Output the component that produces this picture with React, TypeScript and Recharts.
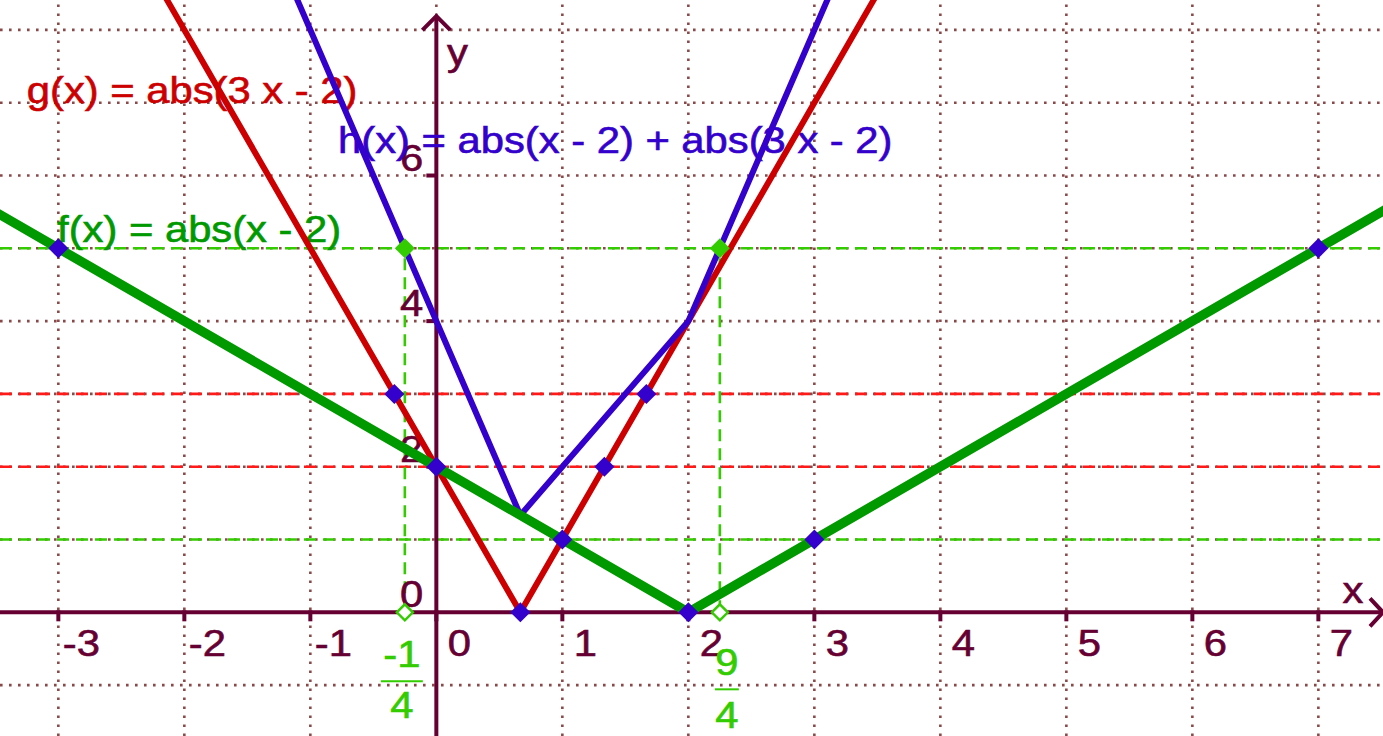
import React from 'react';
import { ComposedChart, Line, Scatter, XAxis, YAxis, ReferenceLine, ReferenceDot } from 'recharts';

// ---------- data ----------
const fPoints = [
  { x: -3.6, y: 5.6 },
  { x: 2, y: 0 },
  { x: 7.6, y: 5.6 },
];
const gPoints = [
  { x: -2.2, y: 8.6 },
  { x: 2 / 3, y: 0 },
  { x: 3.6, y: 8.8 },
];
const hPoints = [
  { x: -1.2, y: 8.8 },
  { x: 2 / 3, y: 4 / 3 },
  { x: 2, y: 4 },
  { x: 3.2, y: 8.8 },
];
const bluePoints = [
  { x: -3, y: 5 },
  { x: 7, y: 5 },
  { x: 0, y: 2 },
  { x: 1, y: 1 },
  { x: 3, y: 1 },
  { x: 2, y: 0 },
  { x: 2 / 3, y: 0 },
  { x: -1 / 3, y: 3 },
  { x: 5 / 3, y: 3 },
  { x: 4 / 3, y: 2 },
];
const greenFilledPoints = [
  { x: -0.25, y: 5 },
  { x: 2.25, y: 5 },
];
const greenHollowPoints = [
  { x: -0.25, y: 0 },
  { x: 2.25, y: 0 },
];
const redLevels = [2, 3];
const greenLevels = [1, 5];
const greenDropXs = [-0.25, 2.25];
const greenDropTop = 5;
const gridXs = [-3, -2, -1, 0, 1, 2, 3, 4, 5, 6, 7];
const gridYs = [-1, 0, 1, 2, 3, 4, 5, 6, 7, 8];
const xTickValues = [-3, -2, -1, 0, 1, 2, 3, 4, 5, 6, 7];
const xTickLabels = ['-3', '-2', '-1', '0', '1', '2', '3', '4', '5', '6', '7'];
const yTickValues = [0, 2, 4, 6];
const yTickLabels = ['0', '2', '4', '6'];
const yTickMarkValues = [2, 4, 6];
const fnNames = ['g(x) = abs(3 x - 2)', 'h(x) = abs(x - 2) + abs(3 x - 2)', 'f(x) = abs(x - 2)'];
const fractionNums = ['-1', '9'];
const fractionDens = ['4', '4'];
const axisNames = ['x', 'y'];

// ---------- layout / style ----------
const W = 1383;
const H = 736;
const X_DOMAIN: [number, number] = [-3.463, 7.513];
const Y_DOMAIN: [number, number] = [-1.699, 8.411];
const Y_AXIS_TOP = 8.19;
const fnLabelAnchors = [
  { x: -3.25, y: 7.0 },
  { x: -0.78, y: 6.31 },
  { x: -3.01, y: 5.09 },
];
const fnColors = ['#cc0000', '#3300cc', '#009900'];
const fractionStyle = [
  { dx: -3, num: 55, bar: 69, den: 106, bw: 42 },
  { dx: 7, num: 63, bar: 77, den: 116, bw: 24 },
];
const AXIS = '#660033';
const GRID = '#8a4848';
const LGREEN = '#33cc00';
const LRED = '#ff1a1a';
const BLUE = '#3300cc';
const FONT = '"Liberation Sans", Arial, sans-serif';
const FS = 36;
const SX = 1.16;

const SText = ({ x, y, anchor = 'start', color, children, size = FS }: any) => (
  <g transform={`translate(${x},${y}) scale(${SX},1)`}>
    <text
      x={0}
      y={0}
      textAnchor={anchor}
      fill={color}
      stroke={color}
      strokeWidth={0.6}
      fontSize={size}
      fontFamily={FONT}
    >
      {children}
    </text>
  </g>
);

const diamond = (fill: string, stroke: string, r: number, sw = 0) => (props: any) => {
  const { cx, cy } = props;
  if (cx == null || cy == null) return <g />;
  return (
    <polygon
      points={`${cx},${cy - r} ${cx + r},${cy} ${cx},${cy + r} ${cx - r},${cy}`}
      fill={fill}
      stroke={stroke}
      strokeWidth={sw}
    />
  );
};

export default function App() {
  return (
    <div style={{ position: 'absolute', left: 0, top: 0, width: W, height: H, background: '#fff' }}>
      <ComposedChart width={W} height={H} margin={{ top: 0, right: 0, bottom: 0, left: 0 }}>
        <XAxis type="number" dataKey="x" domain={X_DOMAIN} allowDataOverflow hide />
        <YAxis type="number" dataKey="y" domain={Y_DOMAIN} allowDataOverflow hide />

        {/* dotted grid */}
        {gridXs.map((v) => (
          <ReferenceLine key={'gx' + v} x={v} stroke={GRID} strokeWidth={2.6} strokeDasharray="2.6 6.4" zIndex={-100} />
        ))}
        {gridYs.map((v) => (
          <ReferenceLine key={'gy' + v} y={v} stroke={GRID} strokeWidth={2.6} strokeDasharray="2.6 6.4" zIndex={-100} />
        ))}

        {/* dashed helper lines */}
        {redLevels.map((v) => (
          <ReferenceLine key={'rl' + v} y={v} stroke={LRED} strokeWidth={2.6} strokeDasharray="12 7" zIndex={-50} />
        ))}
        {greenLevels.map((v) => (
          <ReferenceLine key={'gl' + v} y={v} stroke={LGREEN} strokeWidth={2.6} strokeDasharray="12 7" zIndex={-50} />
        ))}
        {greenDropXs.map((v) => (
          <ReferenceLine
            key={'gd' + v}
            segment={[
              { x: v, y: 0 },
              { x: v, y: greenDropTop },
            ]}
            stroke={LGREEN}
            strokeWidth={2.6}
            strokeDasharray="12 7"
            zIndex={-50}
          />
        ))}

        {/* axes */}
        <ReferenceLine
          segment={[
            { x: X_DOMAIN[0], y: 0 },
            { x: X_DOMAIN[1], y: 0 },
          ]}
          stroke={AXIS}
          strokeWidth={4}
          ifOverflow="visible"
          zIndex={0}
        />
        <ReferenceLine
          segment={[
            { x: 0, y: Y_DOMAIN[0] },
            { x: 0, y: Y_AXIS_TOP },
          ]}
          stroke={AXIS}
          strokeWidth={4}
          ifOverflow="visible"
          zIndex={0}
        />
        <ReferenceDot
          x={0}
          y={Y_AXIS_TOP}
          ifOverflow="visible"
          zIndex={0}
          shape={(p: any) => (
            <polyline
              points={`${p.cx - 14},${p.cy + 14} ${p.cx},${p.cy} ${p.cx + 14},${p.cy + 14}`}
              fill="none"
              stroke={AXIS}
              strokeWidth={4}
            />
          )}
        />
        <ReferenceDot
          x={X_DOMAIN[1]}
          y={0}
          ifOverflow="visible"
          zIndex={0}
          shape={(p: any) => (
            <polyline
              points={`${p.cx - 13},${p.cy - 14} ${p.cx},${p.cy} ${p.cx - 13},${p.cy + 14}`}
              fill="none"
              stroke={AXIS}
              strokeWidth={4}
            />
          )}
        />
        {xTickValues.map((v) => (
          <ReferenceDot
            key={'xt' + v}
            x={v}
            y={0}
            ifOverflow="visible"
            zIndex={0}
            shape={(p: any) => (
              <line x1={p.cx} y1={p.cy - 2} x2={p.cx} y2={p.cy + 9} stroke={AXIS} strokeWidth={4} />
            )}
          />
        ))}
        {yTickMarkValues.map((v) => (
          <ReferenceDot
            key={'yt' + v}
            x={0}
            y={v}
            ifOverflow="visible"
            zIndex={0}
            shape={(p: any) => (
              <line x1={p.cx} y1={p.cy} x2={p.cx - 10} y2={p.cy} stroke={AXIS} strokeWidth={4} />
            )}
          />
        ))}
        {xTickValues.map((v, i) => (
          <ReferenceDot
            key={'xl' + v}
            x={v}
            y={0}
            ifOverflow="visible"
            zIndex={0}
            shape={(p: any) => (
              <SText x={p.cx + 23} y={p.cy + 44} anchor="middle" color={AXIS}>
                {xTickLabels[i]}
              </SText>
            )}
          />
        ))}
        {yTickValues.map((v, i) => (
          <ReferenceDot
            key={'yl' + v}
            x={0}
            y={v}
            ifOverflow="visible"
            zIndex={0}
            shape={(p: any) => (
              <SText x={p.cx - 13} y={p.cy - 5} anchor="end" color={AXIS}>
                {yTickLabels[i]}
              </SText>
            )}
          />
        ))}
        <ReferenceDot
          x={X_DOMAIN[1]}
          y={0}
          ifOverflow="visible"
          zIndex={0}
          shape={(p: any) => (
            <SText x={p.cx - 30} y={p.cy - 9} anchor="middle" color={AXIS}>
              {axisNames[0]}
            </SText>
          )}
        />
        <ReferenceDot
          x={0}
          y={Y_AXIS_TOP}
          ifOverflow="visible"
          zIndex={0}
          shape={(p: any) => (
            <SText x={p.cx + 21} y={p.cy + 49} anchor="middle" color={AXIS}>
              {axisNames[1]}
            </SText>
          )}
        />

        {/* function names */}
        {fnNames.map((t, i) => (
          <ReferenceDot
            key={'fn' + i}
            x={fnLabelAnchors[i].x}
            y={fnLabelAnchors[i].y}
            ifOverflow="visible"
            zIndex={100}
            shape={(p: any) => (
              <SText x={p.cx} y={p.cy} color={fnColors[i]}>
                {t}
              </SText>
            )}
          />
        ))}

        {/* fractions */}
        {greenDropXs.map((v, i) => {
          const s = fractionStyle[i];
          return (
            <ReferenceDot
              key={'fr' + i}
              x={v}
              y={0}
              ifOverflow="visible"
              zIndex={100}
              shape={(p: any) => (
                <g>
                  <SText x={p.cx + s.dx} y={p.cy + s.num} anchor="middle" color={LGREEN}>
                    {fractionNums[i]}
                  </SText>
                  <line
                    x1={p.cx + s.dx - s.bw / 2}
                    x2={p.cx + s.dx + s.bw / 2}
                    y1={p.cy + s.bar}
                    y2={p.cy + s.bar}
                    stroke={LGREEN}
                    strokeWidth={2}
                  />
                  <SText x={p.cx + s.dx} y={p.cy + s.den} anchor="middle" color={LGREEN}>
                    {fractionDens[i]}
                  </SText>
                </g>
              )}
            />
          );
        })}

        {/* functions */}
        <Line data={gPoints} dataKey="y" type="linear" stroke="#cc0000" strokeWidth={6} dot={false} isAnimationActive={false} strokeLinejoin="round" zIndex={400} />
        <Line data={hPoints} dataKey="y" type="linear" stroke={BLUE} strokeWidth={6} dot={false} isAnimationActive={false} strokeLinejoin="round" zIndex={400} />
        <Line data={fPoints} dataKey="y" type="linear" stroke="#009900" strokeWidth={9.5} dot={false} isAnimationActive={false} strokeLinejoin="round" zIndex={400} />

        {/* points */}
        <Scatter data={greenHollowPoints} isAnimationActive={false} shape={diamond('#ffffff', LGREEN, 8, 2.5)} zIndex={600} />
        <Scatter data={greenFilledPoints} isAnimationActive={false} shape={diamond(LGREEN, LGREEN, 10)} zIndex={600} />
        <Scatter data={bluePoints} isAnimationActive={false} shape={diamond(BLUE, BLUE, 10)} zIndex={600} />
      </ComposedChart>
    </div>
  );
}
